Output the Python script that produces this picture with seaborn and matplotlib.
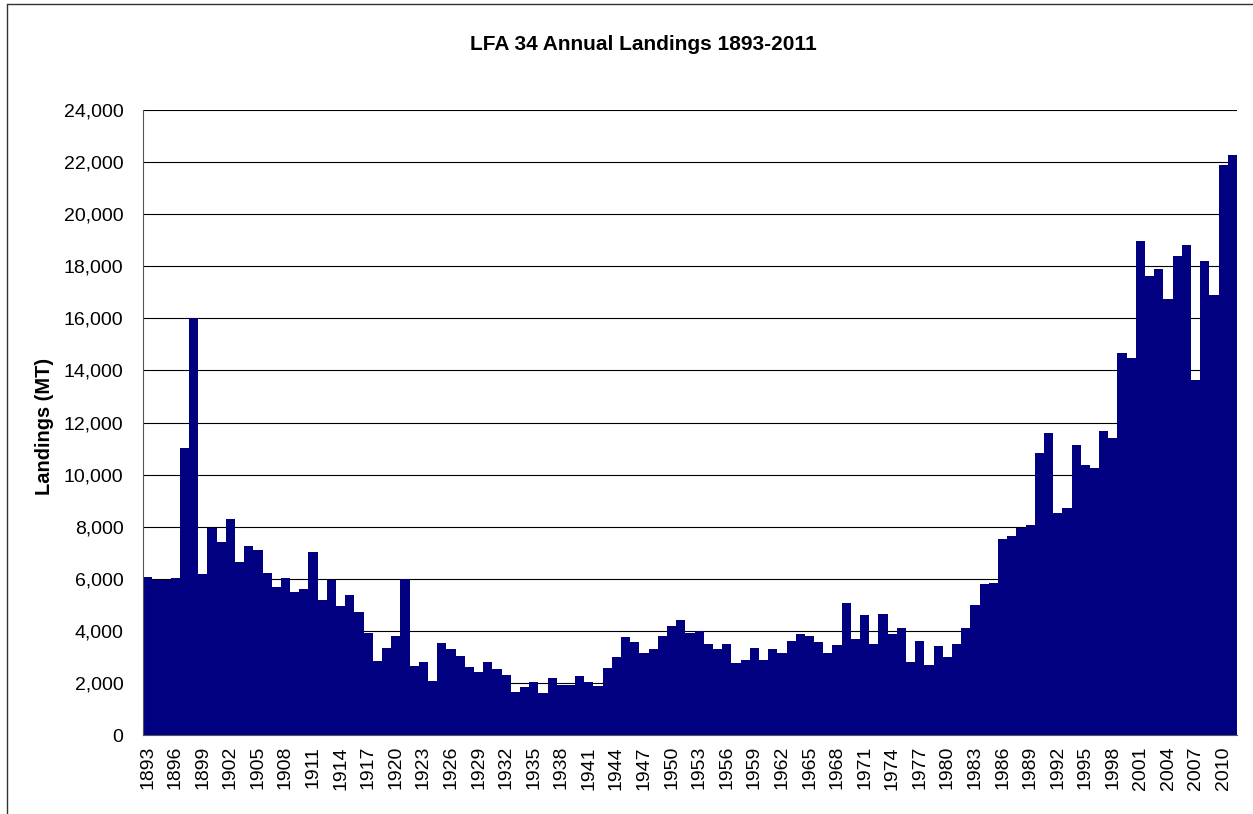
import numpy as np
import pandas as pd
import matplotlib
matplotlib.use("Agg")
import matplotlib.pyplot as plt
from matplotlib.lines import Line2D
from matplotlib.ticker import FuncFormatter
import seaborn as sns

# annual landings (metric tonnes)
years = list(range(1893, 2012))
landings = [
    6060, 5960, 5960, 6010, 11020, 16000, 6190, 7940, 7420, 8290,   # 1893-1902
    6640, 7250, 7100, 6220, 5670, 6040, 5490, 5600, 7030, 5190,     # 1903-1912
    5960, 4940, 5370, 4720, 3910, 2850, 3350, 3810, 6000, 2640,     # 1913-1922
    2790, 2090, 3520, 3320, 3020, 2630, 2430, 2790, 2520, 2290,     # 1923-1932
    1640, 1840, 2040, 1610, 2190, 1920, 1910, 2250, 2040, 1880,     # 1933-1942
    2590, 3000, 3770, 3580, 3160, 3320, 3790, 4200, 4430, 3910,     # 1943-1952
    4010, 3510, 3320, 3490, 2770, 2870, 3330, 2880, 3290, 3160,     # 1953-1962
    3610, 3870, 3790, 3590, 3160, 3460, 5070, 3680, 4600, 3490,     # 1963-1972
    4660, 3890, 4090, 2790, 3600, 2690, 3400, 2990, 3490, 4090,     # 1973-1982
    4980, 5800, 5850, 7530, 7640, 7930, 8050, 10840, 11590, 8530,   # 1983-1992
    8710, 11140, 10350, 10250, 11660, 11390, 14650, 14470, 18970, 17630,  # 1993-2002
    17900, 16730, 18400, 18820, 13630, 18200, 16880, 21880, 22280,  # 2003-2011
]
y_ticks = list(range(0, 24001, 2000))

df = pd.DataFrame({"year": years, "landings": landings})

sns.set_style("white", {"text.color": "black", "axes.labelcolor": "black",
                        "xtick.color": "black", "ytick.color": "black"})
plt.rcParams['font.family'] = ['Liberation Sans', 'DejaVu Sans']

fig = plt.figure(figsize=(12.53, 8.14), dpi=100)
ax = fig.add_axes([143 / 1253, 79 / 814, 1094 / 1253, 625 / 814])

sns.barplot(data=df, x="year", y="landings", color="#000080", saturation=1,
            width=1.0, linewidth=0, ax=ax)

n = len(years)
ax.set_xlim(-0.5, n - 0.5)
ax.set_ylim(0, 24000)
ax.set_yticks(y_ticks)
ax.yaxis.set_major_formatter(FuncFormatter(lambda v, p: f"{int(v):,}"))
ax.grid(axis="y", color="black", linewidth=0.8)
ax.set_axisbelow(True)

# year labels every third bar, tick marks between the bars
ax.set_xticks(range(0, n, 3))
ax.set_xticklabels([str(y) for y in years[::3]], rotation=90)
ax.set_xticks(np.arange(-0.5, n, 1.0), minor=True)
ax.tick_params(axis="x", which="major", length=0, pad=8, labelsize=14, labelcolor="black")
ax.tick_params(axis="x", which="minor", length=5, width=0.8, color="#555555", direction="out")
ax.tick_params(axis="y", length=5, width=0.8, color="#555555", direction="out", pad=9,
               labelsize=14, labelcolor="black")

for s in ["top", "right"]:
    ax.spines[s].set_visible(False)
ax.spines["left"].set_color("#555555")
ax.spines["bottom"].set_color("#555555")
ax.spines["left"].set_linewidth(0.8)

ax.set_xlabel("")
ax.set_ylabel("Landings (MT)", fontsize=14.4, fontweight="bold", color="black",
              va="center")
ax.yaxis.set_label_coords(-0.0896, 0.493)
fig.text(643 / 1253, 1 - 44 / 814, "LFA 34 Annual Landings 1893-2011",
         ha="center", va="center", fontsize=15, fontweight="bold", color="black")

# chart frame (cropped at right and bottom in the original)
fig.add_artist(Line2D([7 / 1253, 7 / 1253], [0, 1 - 4 / 814], color="#333333", lw=1))
fig.add_artist(Line2D([7 / 1253, 1], [1 - 4 / 814, 1 - 4 / 814], color="#333333", lw=1))

fig.savefig("out.png", dpi=100)
